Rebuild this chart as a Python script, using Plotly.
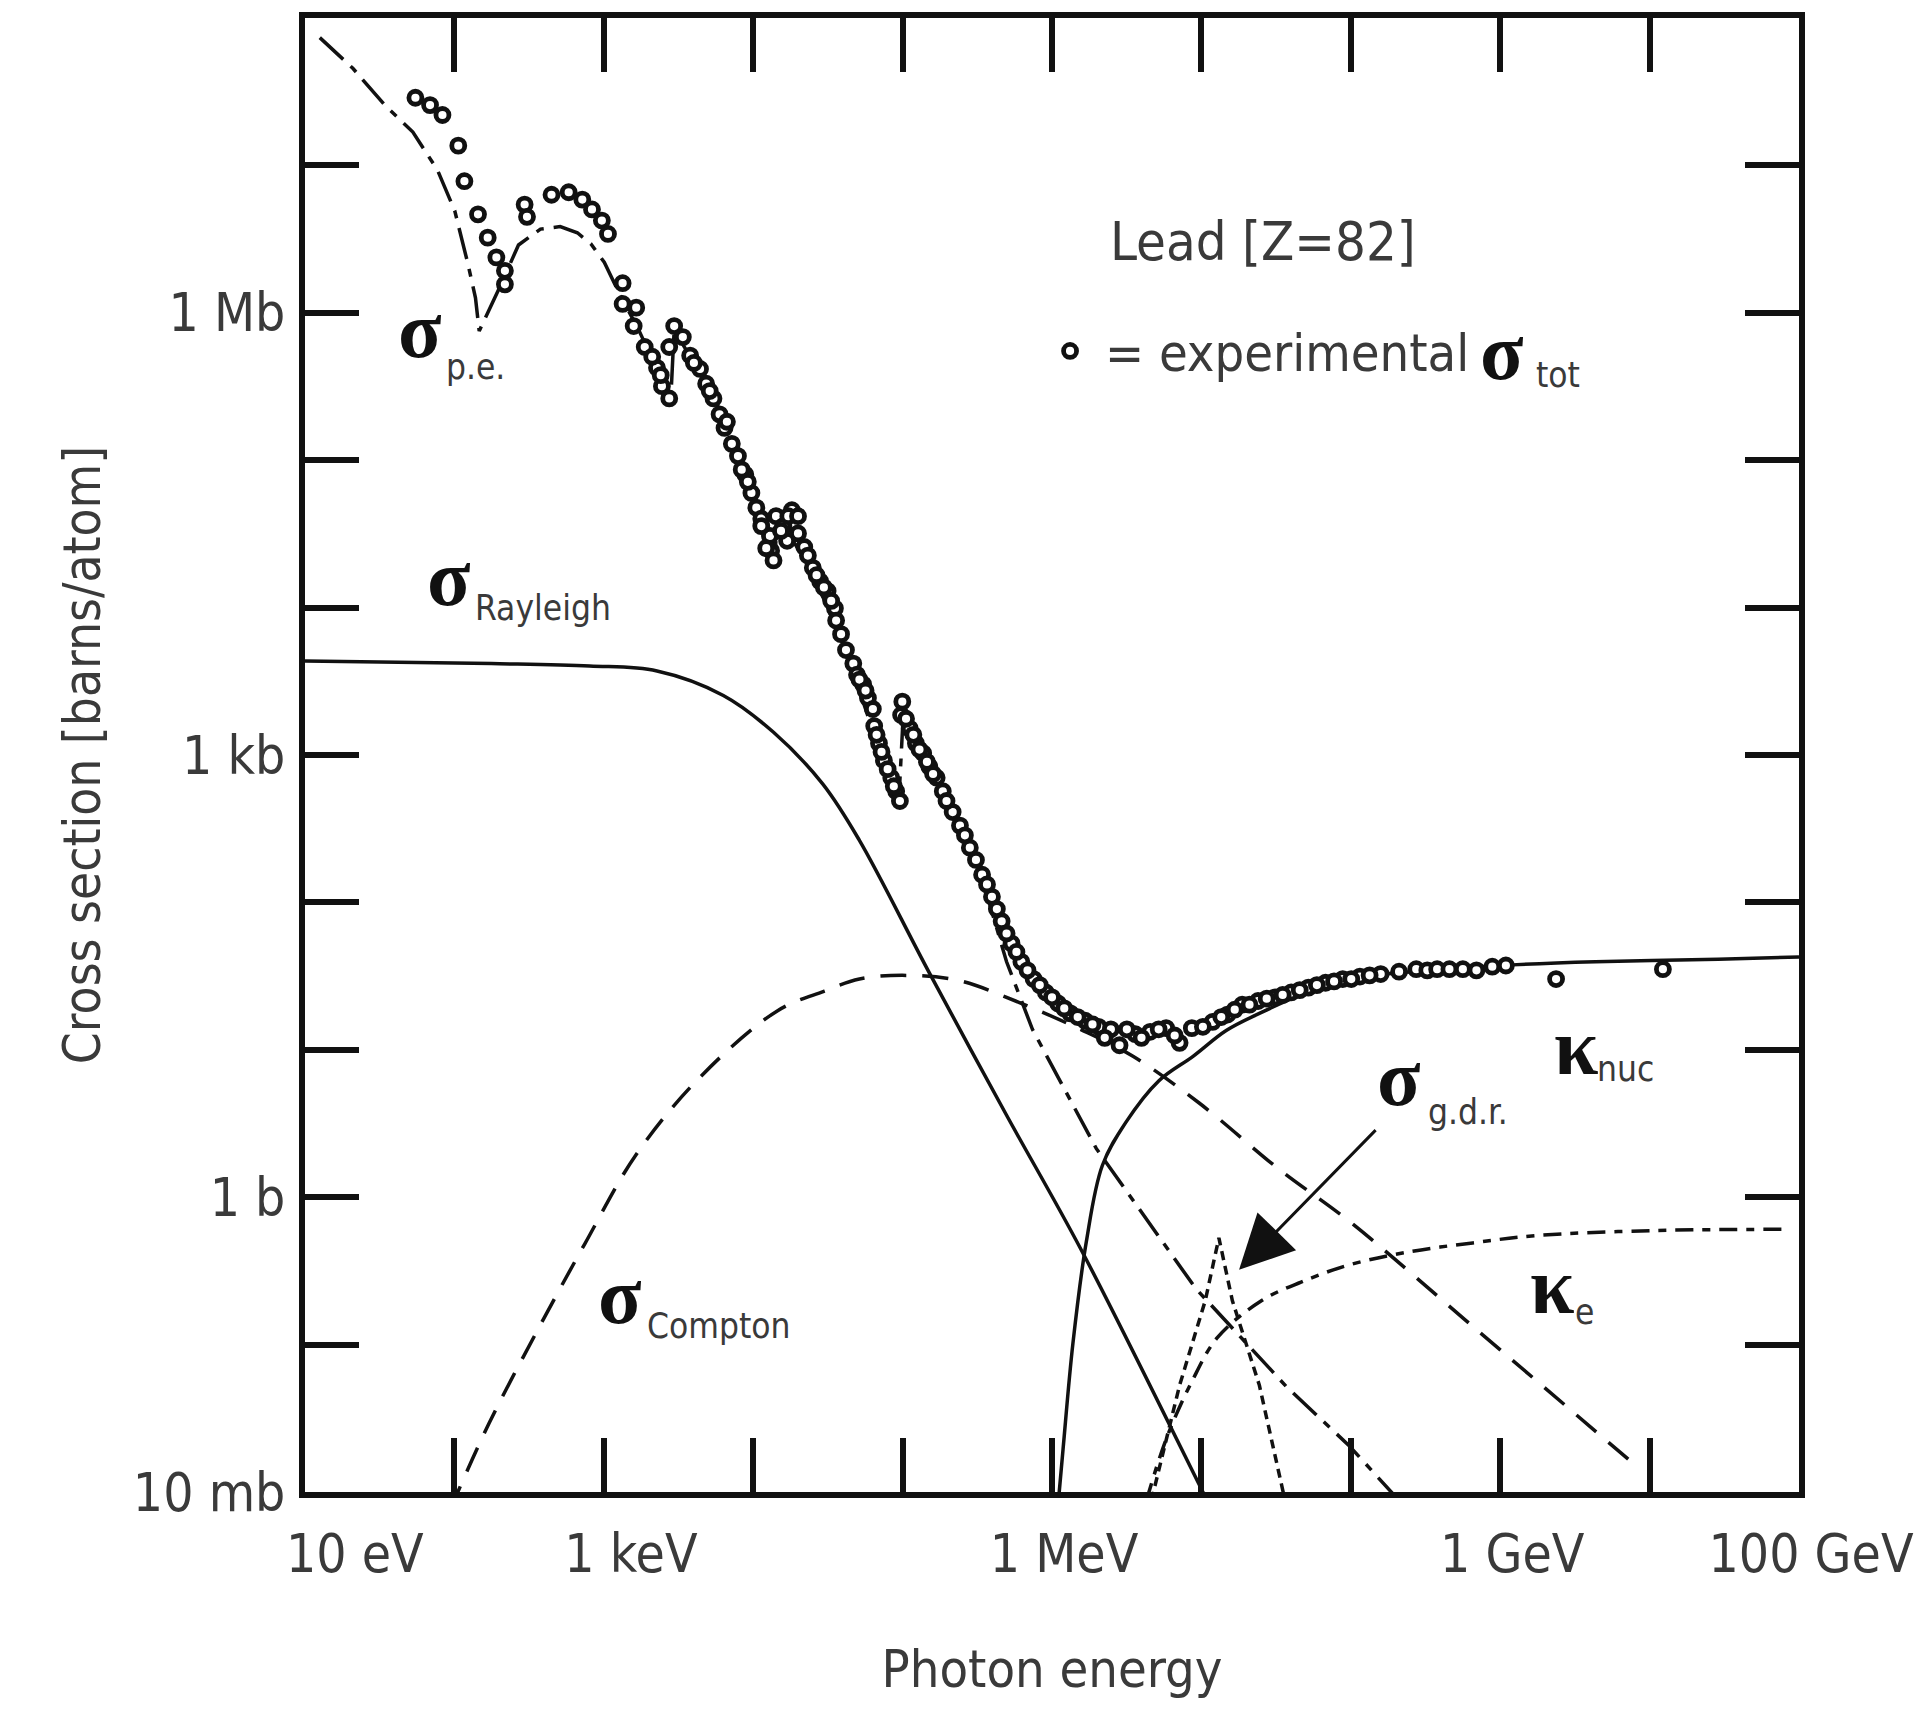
import plotly.graph_objects as go

# ---------------- data (log10 of photon energy in eV, log10 of cross section in barns) -------------
exp_logE = [1.739, 1.837, 1.920, 2.026, 2.067, 2.158, 2.223, 2.281, 2.338, 2.338,
            2.470, 2.486, 2.650, 2.765, 2.856, 2.921, 2.987, 3.028,
            3.126, 3.126, 3.217, 3.200, 3.274, 3.356, 3.389, 3.438,
            3.471, 3.438, 3.529, 3.578, 3.644, 3.685, 3.734, 3.775, 3.808, 3.857, 3.898, 3.947, 3.988,
            4.021, 4.054, 4.112, 4.120, 4.136,
            4.153, 4.202, 4.259, 4.300, 4.342, 4.399, 4.448, 4.498, 4.547, 4.555, 4.588, 4.621, 4.670,
            4.695, 4.736, 4.768, 4.801, 4.810, 4.842, 4.875, 4.924, 4.957, 4.982,
            4.998, 4.990, 5.048, 5.089, 5.138, 5.179, 5.228, 5.269, 5.335, 5.384,
            5.450, 5.532, 5.598, 5.663, 5.729, 5.795, 5.877, 5.959, 6.041, 6.123,
            6.222, 6.312, 6.394, 6.452, 6.558, 6.657, 6.764, 6.854, 6.936, 7.075,
            7.174, 7.273, 7.379, 7.494, 7.601, 7.716, 7.831, 7.946, 8.061, 8.200,
            8.438, 8.512, 8.578, 8.660, 8.750, 8.841, 8.947, 9.038, 9.374, 10.089,
            3.923, 3.964, 4.227, 4.366, 4.424, 4.473, 4.522,
            5.023, 5.072, 5.113, 5.163, 5.204, 5.294, 5.417, 5.491, 5.565, 5.631,
            5.696, 5.762, 5.836, 5.918, 6.000, 6.082, 6.172, 6.271, 6.353, 6.501,
            6.599, 6.714, 6.821, 7.010, 7.133, 7.223, 7.322, 7.437, 7.544, 7.658,
            7.773, 7.888, 8.003, 8.126, 8.323,
            4.711, 4.752, 4.826, 4.859, 4.900, 4.941,
            4.054, 4.087, 4.186, 4.235, 4.300,
            3.603, 3.709, 3.824, 3.381, 3.324]
exp_logS = [7.459, 7.409, 7.342, 7.134, 6.893, 6.668, 6.510, 6.376, 6.285, 6.193,
            6.734, 6.651, 6.801, 6.818, 6.768, 6.701, 6.626, 6.535,
            6.201, 6.060, 6.035, 5.910, 5.768, 5.627, 5.502, 5.419,
            5.910, 5.768, 5.835, 5.710, 5.619, 5.519, 5.419, 5.311, 5.219, 5.111, 5.028, 4.903, 4.778,
            4.678, 4.603, 4.486, 4.386, 4.320,
            4.620, 4.553, 4.661, 4.503, 4.411, 4.270, 4.178, 4.112, 3.995, 3.912, 3.820, 3.712, 3.620,
            3.545, 3.479, 3.387, 3.312, 3.196, 3.079, 2.963, 2.846, 2.754, 2.688,
            3.362, 3.271, 3.179, 3.079, 3.012, 2.921, 2.846, 2.754, 2.613, 2.521,
            2.371, 2.188, 2.038, 1.872, 1.722, 1.597, 1.480, 1.389, 1.314, 1.247,
            1.197, 1.156, 1.139, 1.031, 1.106, 1.122, 1.147, 1.047, 1.147, 1.189,
            1.239, 1.306, 1.331, 1.356, 1.389, 1.422, 1.455, 1.480, 1.497, 1.514,
            1.547, 1.539, 1.547, 1.547, 1.547, 1.539, 1.564, 1.572, 1.480, 1.547,
            4.936, 4.853, 4.453, 4.353, 4.220, 4.137, 4.045,
            3.246, 3.137, 3.037, 2.954, 2.871, 2.688, 2.455, 2.288, 2.122, 1.955,
            1.789, 1.664, 1.539, 1.439, 1.356, 1.281, 1.222, 1.172, 1.081, 1.139,
            1.081, 1.139, 1.097, 1.156, 1.222, 1.272, 1.306, 1.347, 1.372, 1.405,
            1.439, 1.464, 1.480, 1.505, 1.530,
            3.512, 3.437, 3.137, 3.021, 2.904, 2.788,
            4.553, 4.403, 4.520, 4.620, 4.620,
            5.660, 5.469, 5.261, 5.577, 5.702]

pe_logE = [1.099, 1.320, 1.534, 1.722, 1.887, 2.002, 2.092, 2.141, 2.166, 2.297, 2.429, 2.576,
           2.708, 2.823, 2.913, 3.003, 3.110, 3.233, 3.356, 3.447, 3.471, 3.685, 3.890, 4.103,
           4.136, 4.169, 4.383, 4.629, 4.875, 4.974, 5.007, 5.286, 5.532, 5.696, 5.869, 6.296,
           6.961, 7.568, 7.987, 8.200, 8.323]
pe_logS = [7.867, 7.659, 7.409, 7.226, 6.968, 6.693, 6.326, 6.102, 5.877, 6.160, 6.460, 6.568,
           6.585, 6.543, 6.468, 6.343, 6.118, 5.885, 5.619, 5.385, 5.885, 5.519, 5.119, 4.453,
           4.303, 4.603, 4.270, 3.687, 2.938, 2.671, 3.329, 2.721, 2.163, 1.597, 1.139, 0.331,
           -0.618, -1.284, -1.684, -1.917, -2.058]

ray_logE = [1.000, 2.248, 2.905, 3.356, 3.800, 4.136, 4.465, 4.711, 5.179, 5.696, 6.197, 7.010, 7.051]
ray_logS = [3.637, 3.620, 3.604, 3.570, 3.404, 3.154, 2.804, 2.421, 1.522, 0.556, -0.360, -2.000, -2.083]

comp_logE = [1.969, 2.232, 2.544, 2.872, 3.217, 3.644, 4.161, 4.473, 4.711, 4.998, 5.368, 5.778,
             6.189, 6.542, 6.985, 7.519, 7.995, 8.816, 9.883]
comp_logS = [-2.125, -1.534, -0.926, -0.318, 0.290, 0.814, 1.264, 1.397, 1.480, 1.505, 1.472, 1.322,
             1.139, 0.956, 0.639, 0.190, -0.168, -0.876, -1.800]

knuc_logE = [6.041, 6.074, 6.140, 6.230, 6.337, 6.493, 6.714, 6.944, 7.166, 7.388, 7.667, 7.987,
             8.406, 8.997, 9.637, 10.458, 11.000]
knuc_logS = [-2.083, -1.709, -0.992, -0.301, 0.215, 0.506, 0.789, 0.956, 1.131, 1.247, 1.372, 1.480,
             1.530, 1.572, 1.597, 1.614, 1.630]

ke_logE = [6.632, 6.764, 6.936, 7.108, 7.404, 7.667, 7.987, 8.406, 8.816, 9.243, 10.048, 10.885]
ke_logS = [-2.058, -1.642, -1.251, -0.951, -0.701, -0.576, -0.460, -0.368, -0.310, -0.260, -0.226, -0.218]

gdr_logE = [6.665, 6.854, 7.026, 7.117, 7.207, 7.388, 7.560]
gdr_logS = [-2.058, -1.276, -0.701, -0.276, -0.701, -1.276, -2.058]

NB = "\u00a0"
x_tick_logE = [1, 2, 3, 4, 5, 6, 7, 8, 9, 10, 11]
x_tick_text = [NB * 5 + "10 eV", "", NB * 2 + "1 keV", "", "", "1 MeV", "", "", "1 GeV", "", "100 GeV"]
y_tick_logS = [-2, -1, 0, 1, 2, 3, 4, 5, 6, 7, 8]
y_tick_text = ["10 mb", "", "1 b", "", "", "1 kb", "", "", "1 Mb", "", ""]

# ---------------- styling ----------------
NARROW = "DejaVu Sans Condensed, Liberation Sans Narrow, sans-serif"
SERIF = "Liberation Serif, DejaVu Serif, serif"
INK = "#111111"
GREY = "#3a3a3a"


def p10(v):
    return [10 ** a for a in v]


fig = go.Figure()


def curve(xs, ys, dash, shape="linear"):
    fig.add_trace(go.Scatter(x=p10(xs), y=p10(ys), mode="lines", showlegend=False,
                             line=dict(color=INK, width=3.5, dash=dash, shape=shape),
                             hoverinfo="skip"))


curve(ray_logE, ray_logS, "solid", "spline")
curve(comp_logE, comp_logS, "26px,16px", "spline")
curve(pe_logE, pe_logS, "32px,10px,8px,10px")
curve(knuc_logE, knuc_logS, "solid", "spline")
curve(ke_logE, ke_logS, "18px,9px,8px,9px", "spline")
curve(gdr_logE, gdr_logS, "9px,6px")

fig.add_trace(go.Scatter(
    x=p10(exp_logE), y=p10(exp_logS), mode="markers", name=NB + "= experimental",
    marker=dict(symbol="circle", size=13, color="white", line=dict(color=INK, width=4.8)),
    showlegend=True, hoverinfo="skip"))

axis_common = dict(type="log", showgrid=False, zeroline=False, showline=True, linecolor=INK,
                   linewidth=6, mirror="ticks", ticks="inside", ticklen=54, tickwidth=6,
                   tickcolor=INK, tickfont=dict(family=NARROW, size=53, color=GREY))

fig.update_xaxes(range=[1, 11], tickvals=p10(x_tick_logE), ticktext=x_tick_text,
                 title=dict(text="Photon energy", font=dict(family=NARROW, size=52, color=GREY),
                            standoff=70),
                 ticklabelstandoff=10, ticklabelshift=12, **axis_common)
fig.update_yaxes(range=[-2, 8], tickvals=p10(y_tick_logS), ticktext=y_tick_text,
                 title=dict(text="Cross section [barns/atom]",
                            font=dict(family=NARROW, size=51, color=GREY), standoff=18),
                 ticklabelstandoff=3, **axis_common)


def sym(text, x, y, size=80):
    fig.add_annotation(x=x, y=y, xref="x", yref="y", text="<b>" + text + "</b>", showarrow=False,
                       xanchor="center", yanchor="middle",
                       font=dict(family=SERIF, size=size, color=INK))


def sub(text, x, y, size=35):
    fig.add_annotation(x=x, y=y, xref="x", yref="y", text=text, showarrow=False,
                       xanchor="left", yanchor="middle",
                       font=dict(family=NARROW, size=size, color=GREY))


sym("σ", 1.772, 5.880); sub("p.e.", 1.928, 5.635)
sym("σ", 1.961, 4.200); sub("Rayleigh", 2.125, 3.995)
sym("σ", 3.110, -0.670); sub("Compton", 3.274, -0.876)
sym("σ", 8.323, 0.810); sub("g.d.r.", 8.504, 0.581)
sym("κ", 9.506, 1.020); sub("nuc", 9.637, 0.873)
sym("κ", 9.350, -0.605); sub("e", 9.489, -0.776)
sym("σ", 9.010, 5.735); sub("tot", 9.227, 5.577)

fig.add_annotation(x=7.412, y=6.485, xref="x", yref="y", text="Lead [Z=82]", showarrow=False,
                   xanchor="center", yanchor="middle",
                   font=dict(family=NARROW, size=54, color=GREY))

# arrow pointing at the giant dipole resonance peak
fig.add_annotation(x=7.252, y=-0.493, xref="x", yref="y", ax=8.176, ay=0.465, axref="x", ayref="y",
                   text="", showarrow=True, arrowhead=2, arrowsize=3.6, arrowwidth=3,
                   arrowcolor=INK)

fig.update_layout(
    width=1926, height=1719,
    margin=dict(l=305, r=125, t=17, b=227),
    paper_bgcolor="white", plot_bgcolor="white",
    legend=dict(x=0.4987, y=0.774, xanchor="left", yanchor="middle", bgcolor="rgba(0,0,0,0)",
                font=dict(family=NARROW, size=52, color=GREY), itemsizing="trace"),
)

fig.write_html("out.html", config={"displayModeBar": False})
